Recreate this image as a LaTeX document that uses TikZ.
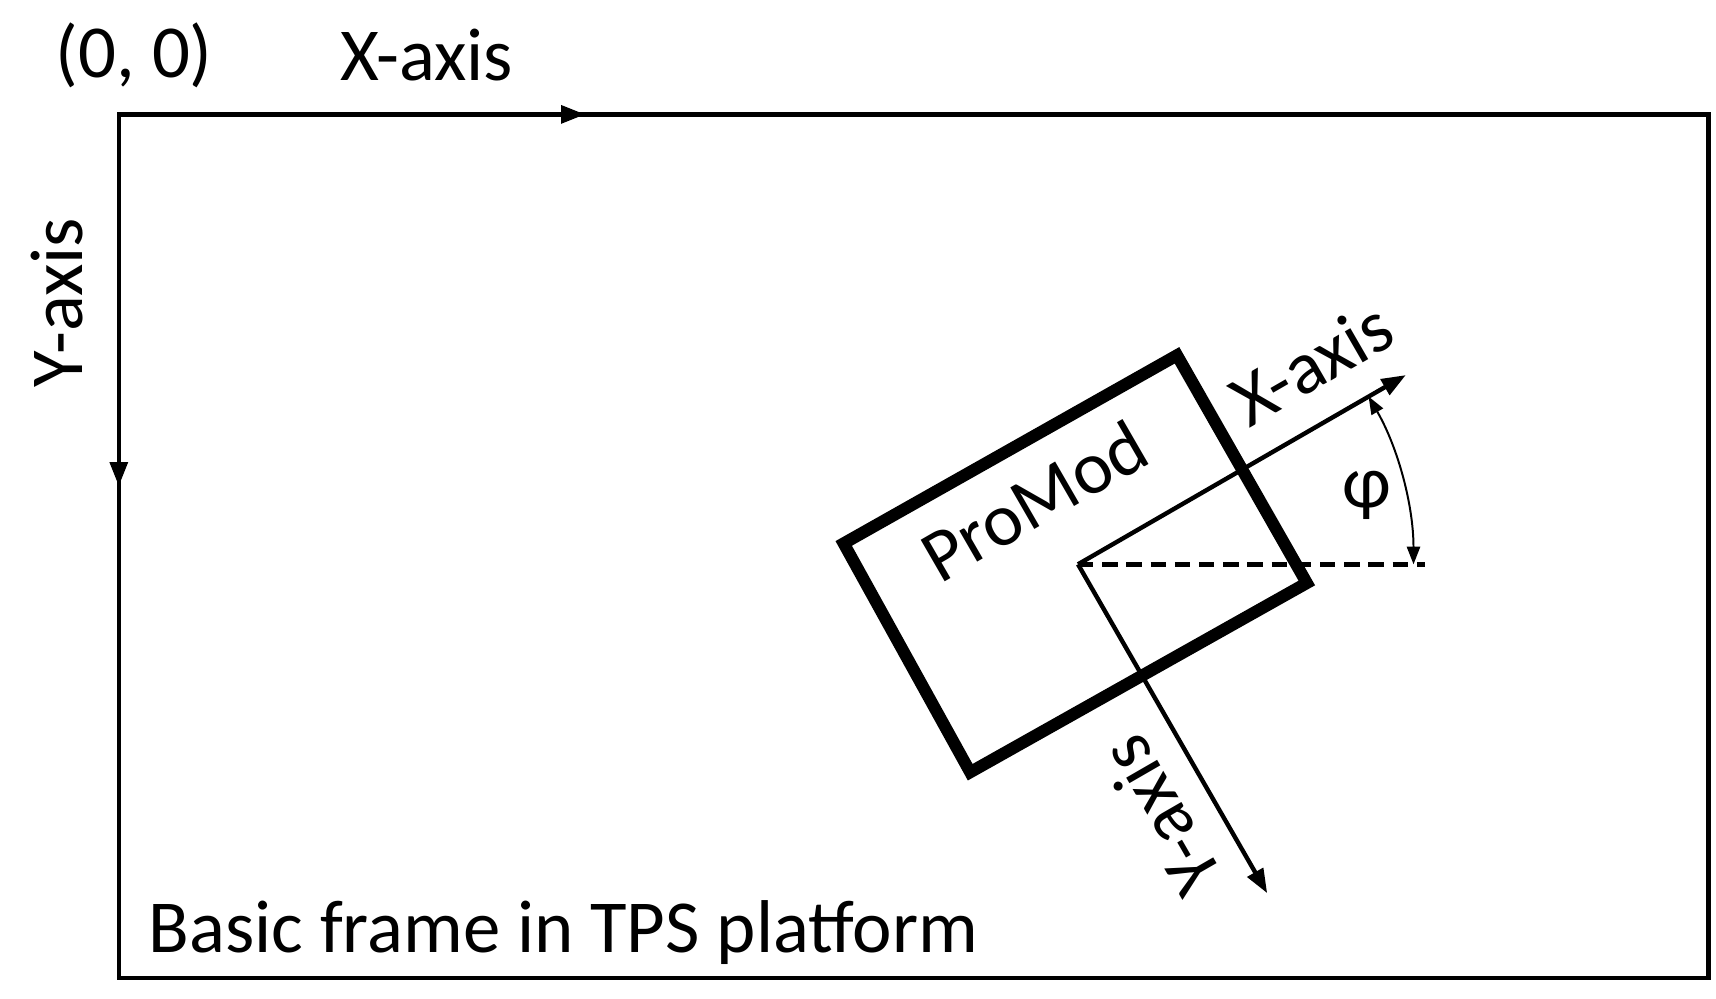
\documentclass[tikz,border=0pt]{standalone}
\usepackage{fontspec}
\setmainfont{Carlito}
\usetikzlibrary{arrows.meta}
\begin{document}
\begin{tikzpicture}[x=1pt,y=-1pt,
  lbl/.style={inner sep=0pt,font=\fontsize{68}{80}\selectfont},
  ax/.style={line width=4pt,-{Triangle[length=22pt,width=16pt]}}]
\useasboundingbox (0,0) rectangle (1560,908);
\draw[line width=4pt] (108,104) rectangle (1553,889);
\coordinate (O) at (108,104);
\coordinate (xe) at (532,104);
\coordinate (ye) at (108,442);
\draw[ax] (O) -- (xe);
\draw[ax] (O) -- (ye);
\node[lbl] (oo) at (122,50) {(0, 0)};
\node[lbl] (xl) at (388,50) {X-axis};
\node[lbl,rotate=90] (yl) at (52,275) {Y-axis};
\node[lbl,anchor=west] (bf) at (135,848) {Basic frame in TPS platform};
% rotated module
\draw[line width=11pt,line join=miter] (1070,323) -- (1188,530) -- (882,702) -- (767,494) -- cycle;
\coordinate (P) at (980,513);
\coordinate (px) at (1278,341);
\coordinate (py) at (1152,812);
\coordinate (pd) at (1295,513);
\draw[line width=4pt,dash pattern=on 14pt off 8pt] (P) -- (pd);
\draw[ax] (P) -- (px);
\draw[ax] (P) -- (py);
\draw[line width=1.8pt,{Triangle[length=16pt,width=12pt]}-{Triangle[length=16pt,width=12pt]}] (1285,513) arc[start angle=0,end angle=-30,radius=305];
\node[lbl] (phi) at (1243,450) {φ};
\node[lbl,rotate=30] (pm) at (940,455) {ProMod};
\node[lbl,rotate=30] (xl2) at (1192,330) {X-axis};
\node[lbl,rotate=120] (yl2) at (1055,742) {Y-axis};
\end{tikzpicture}
\end{document}
